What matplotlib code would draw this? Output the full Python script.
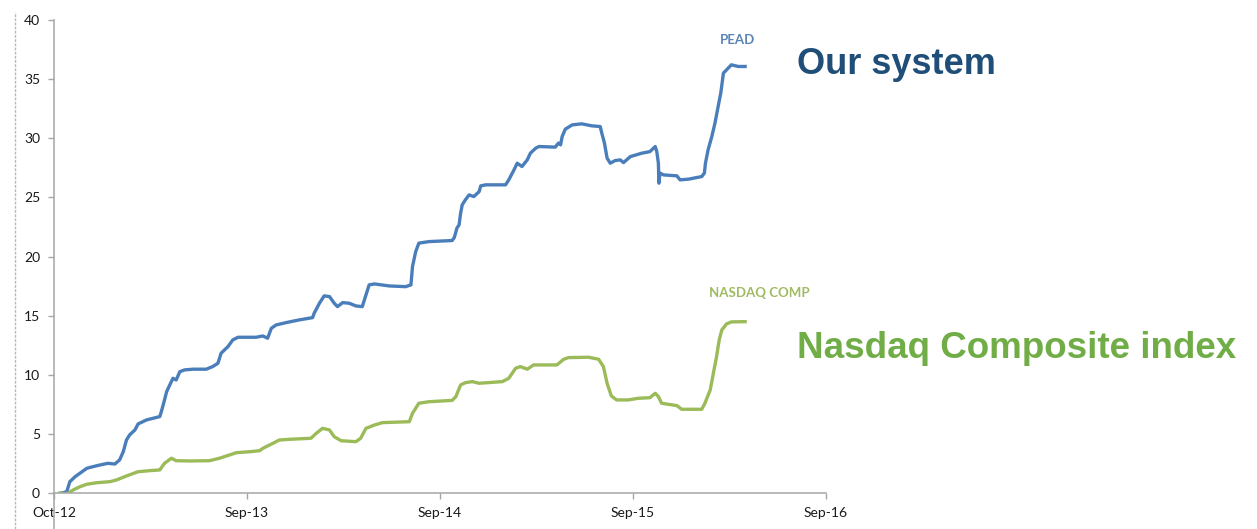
import matplotlib.pyplot as plt
from matplotlib.lines import Line2D

# days since start of test, cumulative return (%)
pead_days = [15, 24, 30, 40, 49, 62, 74, 87, 102, 115, 124, 131, 137, 143, 153, 159, 175, 200, 203, 209,
             213, 219, 225, 231, 238, 247, 263, 288, 300, 310, 316, 329, 338, 348, 382, 395, 404, 411, 420, 439,
             464, 489, 492, 502, 511, 521, 530, 536, 546, 558, 571, 583, 589, 596, 606, 634, 665, 675, 678, 684,
             690, 709, 753, 757, 762, 766, 769, 772, 778, 785, 794, 804, 807, 816, 854, 860, 870, 876, 885, 895,
             901, 911, 917, 948, 954, 958, 961, 967, 980, 998, 1017, 1033, 1036, 1041, 1046, 1052, 1061, 1071, 1077, 1090,
             1112, 1127, 1137, 1140, 1143, 1144, 1146, 1153, 1178, 1184, 1200, 1225, 1230, 1232, 1237, 1244, 1250, 1256, 1261, 1266,
             1272, 1281, 1294, 1307]
pead_vals = [0.0, 0.1, 0.96, 1.38, 1.67, 2.09, 2.23, 2.37, 2.51, 2.45, 2.79, 3.49, 4.48, 4.91, 5.33, 5.84, 6.18, 6.46, 6.88, 7.87,
             8.57, 9.14, 9.70, 9.56, 10.26, 10.41, 10.47, 10.47, 10.69, 10.97, 11.82, 12.38, 12.94, 13.17, 13.17, 13.28, 13.09, 13.93, 14.21, 14.41,
             14.64, 14.83, 15.20, 16.05, 16.67, 16.61, 16.05, 15.76, 16.10, 16.05, 15.82, 15.76, 16.61, 17.60, 17.68, 17.51, 17.45, 17.60, 19.15, 20.41,
             21.13, 21.26, 21.35, 21.6, 22.4, 22.67, 23.66, 24.37, 24.79, 25.21, 25.07, 25.49, 25.97, 26.06, 26.06, 26.48, 27.33, 27.89, 27.61, 28.17,
             28.74, 29.16, 29.30, 29.25, 29.59, 29.44, 30.14, 30.77, 31.13, 31.22, 31.05, 30.99, 30.43, 29.59, 28.32, 27.89, 28.11, 28.17, 27.94, 28.45,
             28.74, 28.87, 29.30, 28.87, 27.89, 26.20, 27.05, 26.90, 26.82, 26.48, 26.54, 26.76, 27.05, 27.89, 29.02, 30.14, 31.28, 32.68, 33.82, 35.51,
             35.79, 36.21, 36.07, 36.07]

nasdaq_days = [11, 24, 36, 49, 62, 81, 106, 118, 137, 159, 181, 200, 209, 222, 231, 257, 294, 313, 326, 345,
               370, 389, 395, 414, 426, 445, 486, 496, 508, 521, 530, 543, 571, 580, 590, 606, 621, 672, 678, 690,
               709, 753, 760, 769, 778, 791, 804, 848, 860, 873, 882, 895, 907, 951, 964, 973, 1011, 1030, 1039, 1046,
               1054, 1064, 1086, 1105, 1127, 1137, 1143, 1149, 1178, 1187, 1225, 1231, 1241, 1247, 1253, 1258, 1263, 1272, 1281, 1307]
nasdaq_vals = [0.0, -0.08, 0.25, 0.53, 0.74, 0.87, 0.96, 1.10, 1.44, 1.80, 1.89, 1.95, 2.51, 2.94, 2.73, 2.71, 2.73, 2.94, 3.13, 3.41,
               3.49, 3.58, 3.78, 4.20, 4.48, 4.54, 4.63, 5.05, 5.47, 5.33, 4.76, 4.42, 4.34, 4.63, 5.47, 5.75, 5.95, 6.03, 6.74, 7.59,
               7.72, 7.83, 8.15, 9.14, 9.33, 9.42, 9.28, 9.42, 9.70, 10.55, 10.69, 10.47, 10.83, 10.83, 11.31, 11.45, 11.48, 11.31, 10.69, 9.28,
               8.21, 7.87, 7.87, 8.01, 8.06, 8.43, 8.15, 7.59, 7.39, 7.08, 7.08, 7.59, 8.71, 10.13, 11.53, 12.94, 13.79, 14.30, 14.47, 14.49]

tick_days = [0, 365, 730, 1095, 1460]
tick_labels = ['Oct-12', 'Sep-13', 'Sep-14', 'Sep-15', 'Sep-16']
y_ticks = [0, 5, 10, 15, 20, 25, 30, 35, 40]

W, H = 1257, 529
fig = plt.figure(figsize=(W / 100, H / 100), dpi=100)
ax = fig.add_axes([54 / W, 1 - 493 / H, (826 - 54) / W, (493 - 20) / H])

ax.plot(pead_days, pead_vals, color='#4A7EBB', lw=2.4, solid_joinstyle='round')
ax.plot(nasdaq_days, nasdaq_vals, color='#9BBB59', lw=2.4, solid_joinstyle='round')

ax.set_xlim(0, 1460)
ax.set_ylim(0, 40)
ax.set_xticks(tick_days)
ax.set_xticklabels(tick_labels)
ax.set_yticks(y_ticks)

axis_grey = '#A6A6A6'
for s in ['top', 'right']:
    ax.spines[s].set_visible(False)
for s in ['left', 'bottom']:
    ax.spines[s].set_color(axis_grey)
    ax.spines[s].set_linewidth(1.1)
ax.tick_params(axis='both', colors=axis_grey, length=4, width=1.0, direction='out')
ax.tick_params(axis='x', pad=6, labelcolor='#1a1a1a', labelsize=10)
ax.tick_params(axis='y', pad=6, labelcolor='#1a1a1a', labelsize=10)
for lab in ax.get_xticklabels() + ax.get_yticklabels():
    lab.set_family('Lato')

# series labels
ax.text(1292, 38.3, 'PEAD', color='#5A84B4', fontsize=9.5, fontweight='bold',
        family='Lato', ha='center', va='center', clip_on=False)
ax.text(1333, 16.9, 'NASDAQ COMP', color='#9FBB62', fontsize=9.5, fontweight='bold',
        family='Lato', ha='center', va='center', clip_on=False)

# slide captions
fig.text(797 / W, 1 - 74 / H, 'Our system', color='#1F4E79', fontsize=26,
         fontweight='bold', family='Liberation Sans', va='baseline')
fig.text(797 / W, 1 - 358 / H, 'Nasdaq Composite index', color='#70AD47', fontsize=26.5,
         fontweight='bold', family='Liberation Sans', va='baseline')

# axis line running below the plot and slide edge on the left
fig.add_artist(Line2D([54 / W, 54 / W], [0, 1 - 493 / H], color=axis_grey, lw=1.1))
fig.add_artist(Line2D([15 / W, 15 / W], [0, 1 - 12 / H], color='#B8B8B8', lw=1.0, ls=(0, (2, 1))))

fig.savefig('out.png', dpi=100)
